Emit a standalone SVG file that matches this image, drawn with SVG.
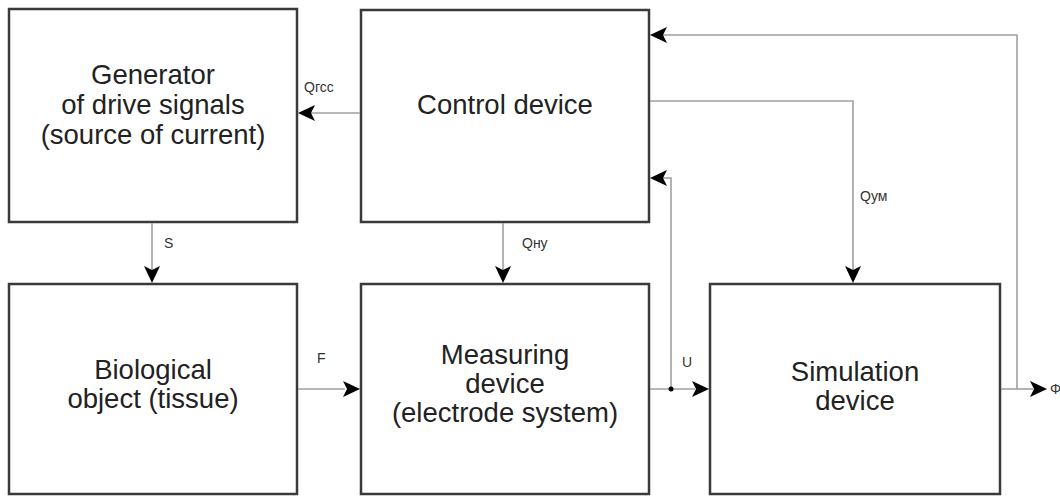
<svg xmlns="http://www.w3.org/2000/svg" width="1060" height="497" viewBox="0 0 1060 497">
<style>
.box{fill:#fff;stroke:#3a3a3a;stroke-width:2.5}
.t{font-family:"Liberation Sans",Arial,sans-serif;font-size:27.5px;fill:#222;text-anchor:middle}
.l{font-family:"Liberation Sans",Arial,sans-serif;font-size:14px;fill:#333}
.c{fill:none;stroke:#a0a0a0;stroke-width:1.6}
.ah{fill:#000}
</style>
<rect width="1060" height="497" fill="#fff"/>
<g id="generator">
<rect class="box" x="9" y="9" width="288" height="213"/>
<text class="t" x="153" y="84">Generator</text>
<text class="t" x="153" y="114">of drive signals</text>
<text class="t" x="153" y="144">(source of current)</text>
</g>
<g id="control">
<rect class="box" x="361" y="10" width="288" height="212"/>
<text class="t" x="505" y="114">Control device</text>
</g>
<g id="biological">
<rect class="box" x="9" y="284" width="288" height="210"/>
<text class="t" x="153" y="379">Biological</text>
<text class="t" x="153" y="408">object (tissue)</text>
</g>
<g id="measuring">
<rect class="box" x="361" y="284" width="288" height="210"/>
<text class="t" x="505" y="364">Measuring</text>
<text class="t" x="505" y="393">device</text>
<text class="t" x="505" y="422">(electrode system)</text>
</g>
<g id="simulation">
<rect class="box" x="710" y="284" width="290" height="210"/>
<text class="t" x="855" y="381">Simulation</text>
<text class="t" x="855" y="410">device</text>
</g>
<g id="connectors">
<path class="c" d="M360,113 H305"/>
<path class="c" d="M152,223 V270"/>
<path class="c" d="M503,223 V270"/>
<path class="c" d="M298,389 H345"/>
<path class="c" d="M650,389 H695"/>
<path class="c" d="M671,389 V178 H662"/>
<path class="c" d="M650,101 H853 V270"/>
<path class="c" d="M1001,389 H1033"/>
<path class="c" d="M1017,389 V35 H662"/>
<path class="ah" d="M298,113 l17,-8 l-4,8 l4,8 Z"/>
<path class="ah" d="M152,283 l-8,-17 l8,4 l8,-4 Z"/>
<path class="ah" d="M503,283 l-8,-17 l8,4 l8,-4 Z"/>
<path class="ah" d="M853,283 l-8,-17 l8,4 l8,-4 Z"/>
<path class="ah" d="M360,389 l-17,-8 l4,8 l-4,8 Z"/>
<path class="ah" d="M709,389 l-17,-8 l4,8 l-4,8 Z"/>
<path class="ah" d="M1047,389 l-17,-8 l4,8 l-4,8 Z"/>
<path class="ah" d="M650,178 l17,-8 l-4,8 l4,8 Z"/>
<path class="ah" d="M650,35 l17,-8 l-4,8 l4,8 Z"/>
<circle cx="671" cy="389" r="2.5" fill="#000"/>
<text class="l" x="304" y="92">Qгсс</text>
<text class="l" x="164" y="248">S</text>
<text class="l" x="522" y="248">Qну</text>
<text class="l" x="317" y="363">F</text>
<text class="l" x="682" y="367">U</text>
<text class="l" x="860" y="201">Qум</text>
<text class="l" x="1050" y="394">Φ</text>
</g>
</svg>
